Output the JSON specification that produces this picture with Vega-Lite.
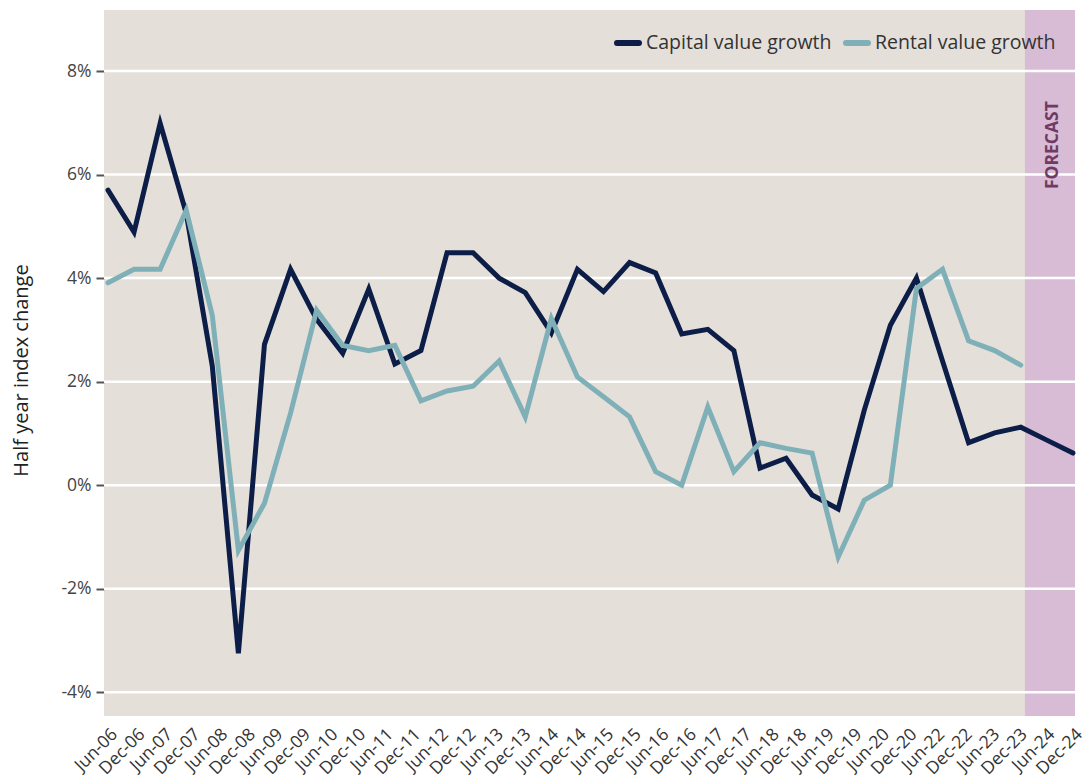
{
  "$schema": "https://vega.github.io/schema/vega-lite/v6.json",
  "width": 971,
  "height": 706,
  "autosize": {"type": "none"},
  "padding": {"left": 104, "top": 10, "right": 14, "bottom": 65},
  "background": "white",
  "config": {
    "view": {"fill": "#e5dfda", "stroke": null},
    "font": "Open Sans",
    "axisX": {
      "labelAngle": -45,
      "labelFontSize": 17.5,
      "labelColor": "#333333",
      "labelPadding": 9,
      "labelOverlap": false,
      "labelBound": false,
      "labelFlush": false,
      "ticks": false,
      "domain": false,
      "grid": false
    },
    "axisY": {
      "labelFontSize": 17.5,
      "labelColor": "#444444",
      "labelPadding": 5,
      "labelOverlap": false,
      "tickSize": 8,
      "tickWidth": 2,
      "tickColor": "#555555",
      "domain": false,
      "grid": false
    }
  },
  "datasets": {
    "series": [
      {"i": 0, "period": "Jun-06", "Capital value growth": 5.70, "Rental value growth": 3.91},
      {"i": 1, "period": "Dec-06", "Capital value growth": 4.89, "Rental value growth": 4.17},
      {"i": 2, "period": "Jun-07", "Capital value growth": 6.99, "Rental value growth": 4.17},
      {"i": 3, "period": "Dec-07", "Capital value growth": 5.25, "Rental value growth": 5.31},
      {"i": 4, "period": "Jun-08", "Capital value growth": 2.30, "Rental value growth": 3.28},
      {"i": 5, "period": "Dec-08", "Capital value growth": -3.25, "Rental value growth": -1.26},
      {"i": 6, "period": "Jun-09", "Capital value growth": 2.72, "Rental value growth": -0.35},
      {"i": 7, "period": "Dec-09", "Capital value growth": 4.17, "Rental value growth": 1.39},
      {"i": 8, "period": "Jun-10", "Capital value growth": 3.20, "Rental value growth": 3.38},
      {"i": 9, "period": "Dec-10", "Capital value growth": 2.55, "Rental value growth": 2.70},
      {"i": 10, "period": "Jun-11", "Capital value growth": 3.79, "Rental value growth": 2.60},
      {"i": 11, "period": "Dec-11", "Capital value growth": 2.34, "Rental value growth": 2.70},
      {"i": 12, "period": "Jun-12", "Capital value growth": 2.60, "Rental value growth": 1.63},
      {"i": 13, "period": "Dec-12", "Capital value growth": 4.49, "Rental value growth": 1.82},
      {"i": 14, "period": "Jun-13", "Capital value growth": 4.49, "Rental value growth": 1.91},
      {"i": 15, "period": "Dec-13", "Capital value growth": 4.00, "Rental value growth": 2.40},
      {"i": 16, "period": "Jun-14", "Capital value growth": 3.72, "Rental value growth": 1.32},
      {"i": 17, "period": "Dec-14", "Capital value growth": 2.94, "Rental value growth": 3.22},
      {"i": 18, "period": "Jun-15", "Capital value growth": 4.17, "Rental value growth": 2.09},
      {"i": 19, "period": "Dec-15", "Capital value growth": 3.74, "Rental value growth": 1.71},
      {"i": 20, "period": "Jun-16", "Capital value growth": 4.30, "Rental value growth": 1.32},
      {"i": 21, "period": "Dec-16", "Capital value growth": 4.10, "Rental value growth": 0.26},
      {"i": 22, "period": "Jun-17", "Capital value growth": 2.92, "Rental value growth": 0.00},
      {"i": 23, "period": "Dec-17", "Capital value growth": 3.01, "Rental value growth": 1.51},
      {"i": 24, "period": "Jun-18", "Capital value growth": 2.60, "Rental value growth": 0.26},
      {"i": 25, "period": "Dec-18", "Capital value growth": 0.33, "Rental value growth": 0.82},
      {"i": 26, "period": "Jun-19", "Capital value growth": 0.52, "Rental value growth": 0.71},
      {"i": 27, "period": "Dec-19", "Capital value growth": -0.19, "Rental value growth": 0.62},
      {"i": 28, "period": "Jun-20", "Capital value growth": -0.46, "Rental value growth": -1.39},
      {"i": 29, "period": "Dec-20", "Capital value growth": 1.45, "Rental value growth": -0.29},
      {"i": 30, "period": "Jun-21", "Capital value growth": 3.09, "Rental value growth": 0.00},
      {"i": 31, "period": "Dec-21", "Capital value growth": 4.00, "Rental value growth": 3.80},
      {"i": 32, "period": "Jun-22", "Capital value growth": 2.40, "Rental value growth": 4.17},
      {"i": 33, "period": "Dec-22", "Capital value growth": 0.82, "Rental value growth": 2.79},
      {"i": 34, "period": "Jun-23", "Capital value growth": 1.01, "Rental value growth": 2.60},
      {"i": 35, "period": "Dec-23", "Capital value growth": 1.12, "Rental value growth": 2.32},
      {"i": 36, "period": "Jun-24", "Capital value growth": 0.87, "Rental value growth": null},
      {"i": 37, "period": "Dec-24", "Capital value growth": 0.62, "Rental value growth": null}
    ],
    "band": [{"start": 35.16, "end": 37.08, "label": "FORECAST", "mid": 36.25, "ypos": 6.57}],
    "grid": [{"v": -4}, {"v": -2}, {"v": 0}, {"v": 2}, {"v": 4}, {"v": 6}, {"v": 8}]
  },
  "layer": [
    {
      "data": {"name": "band"},
      "mark": {"type": "rect", "color": "#d8bcd6"},
      "encoding": {
        "x": {
          "field": "start", "type": "quantitative",
          "scale": {"domain": [-0.153, 37.08], "nice": false, "zero": false},
          "axis": {
            "title": null,
            "values": [0, 1.0571, 2.1143, 3.1714, 4.2286, 5.2857, 6.3429, 7.4, 8.4571, 9.5143, 10.5714, 11.6286, 12.6857, 13.7429, 14.8, 15.8571, 16.9143, 17.9714, 19.0286, 20.0857, 21.1429, 22.2, 23.2571, 24.3143, 25.3714, 26.4286, 27.4857, 28.5429, 29.6, 30.6571, 31.7143, 32.7714, 33.8286, 34.8857, 35.9429, 37],
            "labelExpr": "['Jun-06','Dec-06','Jun-07','Dec-07','Jun-08','Dec-08','Jun-09','Dec-09','Jun-10','Dec-10','Jun-11','Dec-11','Jun-12','Dec-12','Jun-13','Dec-13','Jun-14','Dec-14','Jun-15','Dec-15','Jun-16','Dec-16','Jun-17','Dec-17','Jun-18','Dec-18','Jun-19','Dec-19','Jun-20','Dec-20','Jun-22','Dec-22','Jun-23','Dec-23','Jun-24','Dec-24'][round(datum.value*35/37)]",
            "labelOverlap": false
          }
        },
        "x2": {"field": "end"}
      }
    },
    {
      "data": {"name": "grid"},
      "mark": {"type": "rule", "color": "white", "strokeWidth": 2.5},
      "encoding": {
        "y": {
          "field": "v", "type": "quantitative",
          "scale": {"domain": [-4.46, 9.18], "nice": false, "zero": false},
          "axis": {
            "title": "Half year index change",
            "titleFontSize": 20,
            "titleFontWeight": "normal",
            "titleColor": "#222222",
            "titleX": -83,
            "titleY": 360,
            "titleAlign": "center",
            "titleBaseline": "middle",
            "titleAngle": -90,
            "values": [-4, -2, 0, 2, 4, 6, 8],
            "labelExpr": "datum.value + '%'"
          }
        }
      }
    },
    {
      "data": {"name": "band"},
      "mark": {"type": "text", "angle": 270, "color": "#703a64", "fontSize": 17.5, "fontWeight": "bold", "align": "center", "baseline": "middle"},
      "encoding": {
        "x": {
          "field": "mid", "type": "quantitative",
          "axis": {
            "title": null,
            "values": [0, 1.0571, 2.1143, 3.1714, 4.2286, 5.2857, 6.3429, 7.4, 8.4571, 9.5143, 10.5714, 11.6286, 12.6857, 13.7429, 14.8, 15.8571, 16.9143, 17.9714, 19.0286, 20.0857, 21.1429, 22.2, 23.2571, 24.3143, 25.3714, 26.4286, 27.4857, 28.5429, 29.6, 30.6571, 31.7143, 32.7714, 33.8286, 34.8857, 35.9429, 37],
            "labelExpr": "['Jun-06','Dec-06','Jun-07','Dec-07','Jun-08','Dec-08','Jun-09','Dec-09','Jun-10','Dec-10','Jun-11','Dec-11','Jun-12','Dec-12','Jun-13','Dec-13','Jun-14','Dec-14','Jun-15','Dec-15','Jun-16','Dec-16','Jun-17','Dec-17','Jun-18','Dec-18','Jun-19','Dec-19','Jun-20','Dec-20','Jun-22','Dec-22','Jun-23','Dec-23','Jun-24','Dec-24'][round(datum.value*35/37)]",
            "labelOverlap": false
          }
        },
        "y": {
          "field": "ypos", "type": "quantitative",
          "axis": {
            "title": "Half year index change",
            "titleFontSize": 20,
            "titleFontWeight": "normal",
            "titleColor": "#222222",
            "titleX": -83,
            "titleY": 360,
            "titleAlign": "center",
            "titleBaseline": "middle",
            "titleAngle": -90,
            "values": [-4, -2, 0, 2, 4, 6, 8],
            "labelExpr": "datum.value + '%'"
          }
        },
        "text": {"field": "label"}
      }
    },
    {
      "data": {"name": "series"},
      "transform": [{"fold": ["Capital value growth", "Rental value growth"], "as": ["series", "value"]}],
      "mark": {"type": "line", "strokeWidth": 5, "strokeJoin": "miter", "strokeCap": "round"},
      "encoding": {
        "x": {
          "field": "i", "type": "quantitative",
          "axis": {
            "title": null,
            "values": [0, 1.0571, 2.1143, 3.1714, 4.2286, 5.2857, 6.3429, 7.4, 8.4571, 9.5143, 10.5714, 11.6286, 12.6857, 13.7429, 14.8, 15.8571, 16.9143, 17.9714, 19.0286, 20.0857, 21.1429, 22.2, 23.2571, 24.3143, 25.3714, 26.4286, 27.4857, 28.5429, 29.6, 30.6571, 31.7143, 32.7714, 33.8286, 34.8857, 35.9429, 37],
            "labelExpr": "['Jun-06','Dec-06','Jun-07','Dec-07','Jun-08','Dec-08','Jun-09','Dec-09','Jun-10','Dec-10','Jun-11','Dec-11','Jun-12','Dec-12','Jun-13','Dec-13','Jun-14','Dec-14','Jun-15','Dec-15','Jun-16','Dec-16','Jun-17','Dec-17','Jun-18','Dec-18','Jun-19','Dec-19','Jun-20','Dec-20','Jun-22','Dec-22','Jun-23','Dec-23','Jun-24','Dec-24'][round(datum.value*35/37)]",
            "labelOverlap": false
          }
        },
        "y": {
          "field": "value", "type": "quantitative",
          "axis": {
            "title": "Half year index change",
            "titleFontSize": 20,
            "titleFontWeight": "normal",
            "titleColor": "#222222",
            "titleX": -83,
            "titleY": 360,
            "titleAlign": "center",
            "titleBaseline": "middle",
            "titleAngle": -90,
            "values": [-4, -2, 0, 2, 4, 6, 8],
            "labelExpr": "datum.value + '%'"
          }
        },
        "color": {
          "field": "series", "type": "nominal",
          "scale": {"domain": ["Capital value growth", "Rental value growth"], "range": ["#0c1e47", "#7fb0b8"]},
          "legend": {
            "title": null,
            "orient": "top-right",
            "direction": "horizontal",
            "offset": 19,
            "symbolType": "stroke",
            "symbolStrokeWidth": 6,
            "symbolSize": 484,
            "labelFontSize": 19.5,
            "labelLimit": 400,
            "labelColor": "#333333",
            "columnPadding": 2,
            "padding": 0,
            "encode": {"symbols": {"update": {"strokeCap": {"value": "round"}}}}
          }
        }
      }
    }
  ]
}
